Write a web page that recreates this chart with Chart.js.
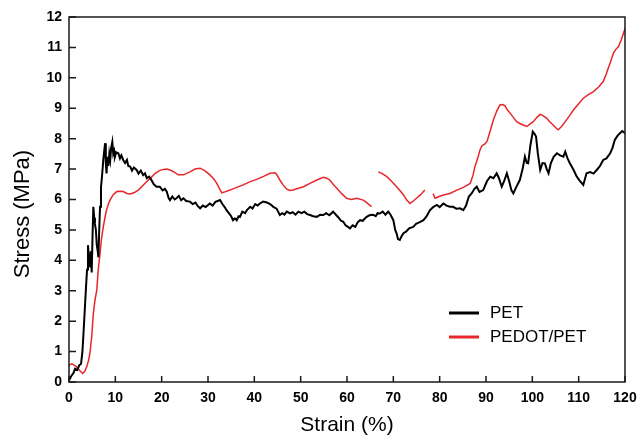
<!DOCTYPE html>
<html>
<head>
<meta charset="utf-8">
<script src="https://cdn.jsdelivr.net/npm/chart.js@4.4.1/dist/chart.umd.min.js"></script>
<style>
  body { margin: 0; background: #fff; }
  #wrap { width: 638px; height: 438px; }
</style>
</head>
<body>
<div id="wrap"><canvas id="grafico" width="638" height="438"></canvas></div>
<script>
// valores (deformacion %, esfuerzo MPa)
const strainPET = [0,0.5,1.0,1.3,1.8,2.2,2.6,2.9,3.2,3.45,3.7,3.9,4.1,4.25,4.4,4.55,4.7,4.9,5.05,5.25,5.45,5.6,5.8,6.0,6.2,6.35,6.5,6.7,6.9,7.05,7.25,7.4,7.6,7.8,7.95,8.1,8.3,8.5,8.7,8.9,9.1,9.35,9.55,9.75,9.9,10.2,10.65,11.0,11.3,11.7,12.1,12.5,12.8,13.2,13.6,14.0,14.6,15.0,15.5,16.0,16.4,16.8,17.3,17.8,18.3,18.9,19.6,20.2,20.7,21.1,21.5,21.8,22.3,22.8,23.2,23.7,24.2,24.7,25.3,26.1,26.7,27.3,27.8,28.3,28.9,29.5,30.4,31.0,31.6,32.1,32.6,33.1,33.6,34.0,34.5,35.0,35.4,35.8,36.2,36.6,36.9,37.4,38.0,38.4,39.1,39.6,40.2,40.7,41.2,41.9,42.7,43.4,44.1,44.8,45.5,46.0,46.5,47.0,47.7,48.3,48.9,49.5,50.2,50.8,51.4,52.0,52.7,53.5,54.2,54.9,55.5,56.2,57.0,57.6,58.2,58.7,59.2,59.7,60.2,60.65,61.2,61.8,62.3,62.8,63.4,64.0,64.5,65.0,65.6,66.2,66.6,67.1,67.7,68.3,68.9,69.4,70.0,70.4,70.7,71.0,71.4,71.8,72.2,72.8,73.4,74.3,74.9,75.6,76.5,77.2,77.9,78.6,79.4,80.0,80.8,81.5,82.2,82.9,83.6,84.4,85.1,85.7,86.3,86.9,87.5,88.0,88.6,89.4,90.2,90.9,91.6,92.3,92.8,93.4,93.9,94.5,95.0,95.5,95.9,96.5,97.3,97.9,98.4,98.8,99.1,99.6,100.1,100.5,100.8,101.2,101.7,102.2,102.7,103.1,103.5,104.0,104.6,105.3,106.0,106.7,107.1,107.6,108.1,108.8,109.6,110.3,111.0,111.4,111.7,112.5,113.2,113.9,114.6,115.3,116.0,116.8,117.3,117.8,118.4,118.9,119.4,120.0];
const stressPET = [0.05,0.2,0.3,0.44,0.4,0.55,0.6,1.0,1.8,2.5,3.2,3.7,4.5,4.2,4.0,3.8,4.3,3.6,4.6,5.76,5.4,5.2,5.0,4.5,4.3,4.1,4.9,5.76,6.4,6.64,7.0,7.3,7.6,7.85,7.2,6.86,7.4,7.1,7.5,7.3,7.7,7.9,7.5,7.6,7.4,7.55,7.52,7.35,7.45,7.3,7.2,7.3,7.1,7.08,6.95,7.05,6.97,6.85,6.95,6.8,6.86,6.7,6.75,6.64,6.5,6.42,6.42,6.3,6.35,6.26,6.05,5.98,6.1,6.0,6.04,6.12,5.98,6.04,5.95,5.93,5.85,5.9,5.78,5.71,5.8,5.75,5.87,5.8,5.92,5.95,5.98,5.85,5.75,5.65,5.55,5.45,5.32,5.38,5.32,5.45,5.43,5.6,5.55,5.65,5.76,5.7,5.85,5.8,5.87,5.93,5.9,5.85,5.76,5.7,5.49,5.55,5.5,5.6,5.54,5.58,5.5,5.6,5.55,5.6,5.52,5.49,5.45,5.43,5.5,5.49,5.55,5.48,5.6,5.5,5.4,5.3,5.27,5.15,5.1,5.05,5.15,5.1,5.25,5.32,5.3,5.4,5.45,5.49,5.5,5.45,5.55,5.54,5.6,5.5,5.6,5.5,5.32,5.0,4.89,4.7,4.67,4.8,4.89,4.95,5.05,5.1,5.2,5.25,5.32,5.45,5.65,5.75,5.82,5.75,5.87,5.8,5.76,5.76,5.7,5.71,5.65,5.8,6.1,6.2,6.35,6.42,6.25,6.31,6.6,6.75,6.7,6.86,6.7,6.42,6.6,6.86,6.6,6.3,6.2,6.4,6.64,7.0,7.41,7.2,7.19,7.8,8.23,8.15,8.07,7.5,6.97,7.2,7.19,7.0,6.86,7.2,7.4,7.52,7.45,7.41,7.57,7.35,7.19,7.0,6.75,6.6,6.48,6.7,6.86,6.9,6.85,6.97,7.1,7.3,7.35,7.52,7.7,7.96,8.1,8.18,8.25,8.18];

// null = tramo sin datos en la curva roja
const strainPEDOT = [0,0.6,1.2,1.7,2.3,2.95,3.4,3.8,4.2,4.5,4.9,5.25,5.6,6.0,6.3,6.7,7.0,7.4,7.75,8.1,8.5,8.85,9.5,10.3,11.0,11.7,12.5,13.2,14.0,14.96,15.9,16.8,17.7,18.6,19.5,20.4,21.1,21.8,22.7,23.6,24.7,25.4,26.1,27.2,28.3,29.3,30.4,31.2,31.9,32.5,33.0,33.8,34.75,36.2,37.6,39.0,40.5,42.0,43.4,44.5,45.0,45.5,46.2,47.0,47.7,48.4,49.5,50.6,52.0,53.5,54.9,55.6,56.3,57.0,57.8,58.8,59.9,61.0,62.1,63.5,64.4,65.3,66.0,66.75,67.6,68.6,69.6,70.7,71.5,72.2,72.9,73.6,74.3,75.0,75.9,76.8,77.7,78.6,79.0,79.9,80.8,82.2,83.7,85.1,86.6,87.2,87.6,88.2,88.7,89.1,89.7,90.2,90.9,91.6,92.3,93.0,93.6,94.1,94.6,95.2,95.9,96.6,97.3,98.0,98.8,99.5,100.2,101.0,101.7,102.4,103.1,103.8,104.5,105.1,105.6,106.3,107.1,108.0,108.9,110.0,111.0,112.1,113.2,114.3,115.3,115.9,116.4,117.0,117.5,118.1,118.6,119.2,119.8,120.0];
const stressPEDOT = [0.55,0.6,0.55,0.49,0.38,0.28,0.35,0.49,0.7,0.93,1.48,2.25,2.69,3.02,3.68,4.23,4.7,5.1,5.4,5.65,5.85,5.98,6.15,6.26,6.27,6.26,6.2,6.18,6.22,6.31,6.45,6.59,6.72,6.86,6.95,6.99,7.0,6.97,6.9,6.81,6.81,6.86,6.91,7.0,7.03,6.95,6.81,6.68,6.53,6.35,6.22,6.26,6.31,6.4,6.48,6.58,6.66,6.76,6.86,6.88,6.78,6.64,6.48,6.34,6.3,6.31,6.37,6.42,6.53,6.64,6.73,6.7,6.64,6.5,6.37,6.2,6.04,6.0,6.04,5.98,5.88,5.76,null,6.91,6.85,6.75,6.6,6.42,6.28,6.15,5.98,5.87,5.95,6.04,6.16,6.31,null,6.2,6.04,6.1,6.15,6.2,6.31,6.4,6.53,6.8,7.08,7.35,7.63,7.76,7.82,7.9,8.25,8.62,8.9,9.11,9.12,9.08,8.95,8.84,8.7,8.56,8.5,8.45,8.4,8.48,8.56,8.7,8.8,8.75,8.67,8.55,8.45,8.35,8.29,8.4,8.56,8.75,8.95,9.15,9.33,9.45,9.55,9.7,9.88,10.1,10.32,10.58,10.81,10.95,11.03,11.25,11.52,11.62];

const etiquetas = ['PET', 'PEDOT/PET'];
const colores = ['#000000', '#e8262a'];
const tituloX = 'Strain (%)';
const tituloY = 'Stress (MPa)';

const fuente = "'Liberation Sans', Arial, sans-serif";

function aPuntos(xs, ys) {
    return xs.map((x, i) => ({ x: x, y: ys[i] }));
}

// marco, marcas interiores, titulo Y y leyenda
const decorado = {
    id: 'decorado',
    afterDraw(chart) {
        const ctx = chart.ctx;
        const area = chart.chartArea;
        const ex = chart.scales.x;
        const ey = chart.scales.y;
        ctx.save();
        ctx.strokeStyle = '#1a1a1a';
        ctx.lineWidth = 1.5;
        ctx.strokeRect(area.left, area.top, area.right - area.left, area.bottom - area.top);

        ctx.beginPath();
        ex.ticks.forEach(t => {
            const px = ex.getPixelForValue(t.value);
            ctx.moveTo(px, area.bottom);
            ctx.lineTo(px, area.bottom - 6);
        });
        ey.ticks.forEach(t => {
            const py = ey.getPixelForValue(t.value);
            ctx.moveTo(area.left, py);
            ctx.lineTo(area.left + 7, py);
        });
        ctx.stroke();

        // titulo del eje Y
        ctx.fillStyle = '#000';
        ctx.font = '22px ' + fuente;
        ctx.textAlign = 'center';
        ctx.textBaseline = 'middle';
        ctx.translate(23, 214);
        ctx.rotate(-Math.PI / 2);
        ctx.fillText(tituloY, 0, 0);
        ctx.restore();

        // leyenda
        ctx.save();
        ctx.font = '17px ' + fuente;
        ctx.textAlign = 'left';
        ctx.textBaseline = 'middle';
        chart.data.datasets.forEach((ds, i) => {
            const y = 313 + i * 24;
            ctx.strokeStyle = ds.borderColor;
            ctx.lineWidth = 3;
            ctx.beginPath();
            ctx.moveTo(449, y);
            ctx.lineTo(479, y);
            ctx.stroke();
            ctx.fillStyle = '#000';
            ctx.fillText(ds.label, 490, y);
        });
        ctx.restore();
    }
};

new Chart(document.getElementById('grafico'), {
    type: 'scatter',
    data: {
        datasets: [
            {
                label: etiquetas[0],
                data: aPuntos(strainPET, stressPET),
                borderColor: colores[0],
                backgroundColor: colores[0],
                borderWidth: 2,
                showLine: true,
                pointRadius: 0,
                tension: 0
            },
            {
                label: etiquetas[1],
                data: aPuntos(strainPEDOT, stressPEDOT),
                borderColor: colores[1],
                backgroundColor: colores[1],
                borderWidth: 1.5,
                showLine: true,
                spanGaps: false,
                pointRadius: 0,
                tension: 0
            }
        ]
    },
    options: {
        responsive: false,
        animation: false,
        layout: { padding: { top: 17, right: 0, left: 0, bottom: 0 } },
        plugins: {
            legend: { display: false },
            tooltip: { enabled: false }
        },
        scales: {
            x: {
                type: 'linear',
                min: 0,
                max: 120,
                grid: { display: false, drawTicks: false },
                border: { display: false },
                ticks: {
                    stepSize: 10,
                    padding: 8,
                    color: '#000',
                    font: { family: fuente, size: 14, weight: 'bold' },
                    maxRotation: 0
                },
                title: {
                    display: true,
                    text: tituloX,
                    color: '#000',
                    font: { family: fuente, size: 21 },
                    padding: { top: 0, bottom: 0 }
                },
                afterFit(s) {
                    s.height = 56;
                    s.paddingRight = 13;
                    s.paddingLeft = 0;
                }
            },
            y: {
                type: 'linear',
                min: 0,
                max: 12,
                grid: { display: false, drawTicks: false },
                border: { display: false },
                ticks: {
                    stepSize: 1,
                    padding: 7,
                    color: '#000',
                    font: { family: fuente, size: 14, weight: 'bold' }
                },
                afterFit(s) { s.width = 69; }
            }
        }
    },
    plugins: [decorado]
});
</script>
</body>
</html>
